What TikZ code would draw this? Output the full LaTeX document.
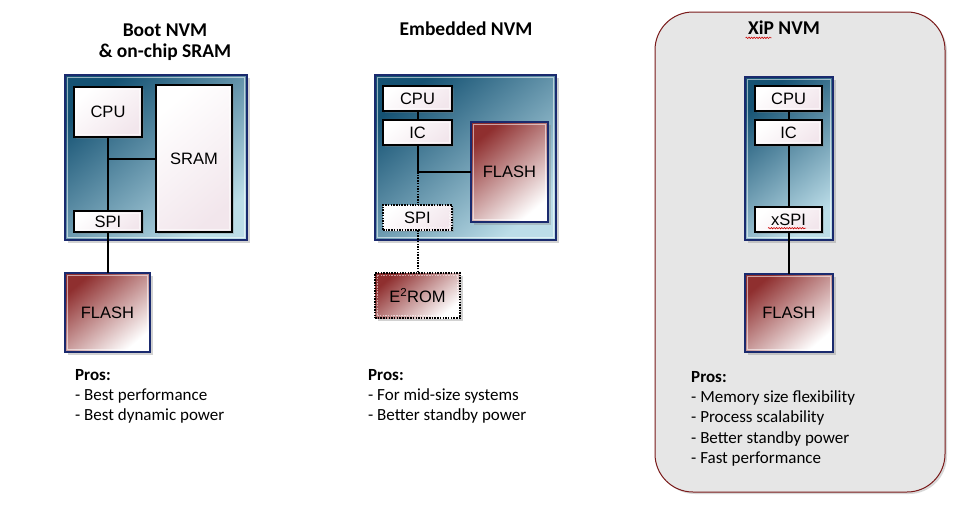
\documentclass[tikz,border=0pt]{standalone}
\usepackage{fontspec}
\setmainfont{Liberation Sans}
\newfontfamily\calfont{Carlito}
\usetikzlibrary{shadows,decorations.pathmorphing}
\definecolor{bdark}{HTML}{155273}
\definecolor{blight}{HTML}{BCDDE8}
\definecolor{navy}{HTML}{1A2A6E}
\definecolor{rdark}{HTML}{8F2F2F}
\definecolor{wpink}{HTML}{F2E6EC}
\definecolor{panelgrey}{HTML}{E6E6E6}
\definecolor{panelred}{HTML}{7A1A1A}
\tikzset{
  bevel/.style={path picture={\draw[white,opacity=0.55,line width=1.2pt]
     ([shift={(2.2pt,-2.2pt)}]path picture bounding box.north west) rectangle
     ([shift={(-2.2pt,2.2pt)}]path picture bounding box.south east);}},
  board/.style={draw=navy,line width=2pt,inner sep=0pt,outer sep=0pt,
     top color=bdark,bottom color=blight,shading angle=40,bevel,
     drop shadow={shadow xshift=2.5pt,shadow yshift=-2.5pt,opacity=0.35}},
  wbox/.style={draw=black,line width=2pt,inner sep=0pt,outer sep=0pt,
     top color=white,bottom color=wpink,shading angle=40,bevel,
     font=\fontsize{16.5}{18}\selectfont,
     drop shadow={shadow xshift=1.5pt,shadow yshift=-1.5pt,opacity=0.3}},
  fbox/.style={draw=navy,line width=2pt,inner sep=0pt,outer sep=0pt,
     top color=rdark,bottom color=white,shading angle=40,bevel,
     font=\fontsize{16.5}{18}\selectfont,
     drop shadow={shadow xshift=2.5pt,shadow yshift=-2.5pt,opacity=0.35}},
  dotbox/.style={dash pattern=on 1.5pt off 1.2pt},
  wire/.style={draw=black,line width=2pt},
  dwire/.style={draw=black,line width=2pt,dash pattern=on 1.5pt off 1.2pt},
  title/.style={font=\calfont\bfseries\fontsize{19.5}{22}\selectfont},
  pros/.style={anchor=north west,align=left,inner sep=0pt,font=\calfont\fontsize{17}{20.3}\selectfont},
  squiggle/.style={draw=red!80!black,line width=0.6pt,decorate,
     decoration={snake,amplitude=0.7pt,segment length=2.6pt}}
}
\begin{document}
\begin{tikzpicture}[x=1pt,y=-1pt]
\useasboundingbox[fill=white] (0,0) rectangle (959,507);
% panel 3 background
\draw[fill=panelgrey,draw=panelred,line width=1pt,rounded corners=38pt,
  drop shadow={shadow xshift=2pt,shadow yshift=-2pt,opacity=0.3}]
  (655,12) rectangle (945,492);

% ===== Panel 1 =====
\node[title] (t1a) at (165,30) {Boot NVM};
\node[title] (t1b) at (165,52) {\& on-chip SRAM};
\node[board,minimum width=182pt,minimum height=165pt] (b1) at (156,157.5) {};
\node[wbox,minimum width=68pt,minimum height=50pt] (cpu1) at (108,112) {CPU};
\node[wbox,minimum width=76pt,minimum height=147pt] (sram) at (194,158.5) {SRAM};
\node[wbox,minimum width=68pt,minimum height=21pt] (spi1) at (108,221.5) {SPI};
\node[fbox,minimum width=85pt,minimum height=79pt] (fl1) at (107.5,312.5) {FLASH};
\coordinate (j1) at (cpu1.south |- sram.west);
\draw[wire] (cpu1.south) -- (spi1.north);
\draw[wire] (j1) -- (sram.west);
\draw[wire] (spi1.south) -- (spi1.south |- fl1.north);
\node[pros] (p1) at (75,369) {\textbf{Pros:}\\- Best performance\\- Best dynamic power};

% ===== Panel 2 =====
\node[title] (t2) at (466,29) {Embedded NVM};
\node[board,minimum width=181pt,minimum height=165pt] (b2) at (465.5,157.5) {};
\node[wbox,minimum width=69pt,minimum height=25pt] (cpu2) at (417.5,98.5) {CPU};
\node[wbox,minimum width=69pt,minimum height=25pt] (ic2) at (417.5,132.5) {IC};
\node[fbox,minimum width=77pt,minimum height=100pt] (fl2) at (509.5,172) {FLASH};
\node[wbox,dotbox,minimum width=69pt,minimum height=25pt] (spi2) at (417.5,217.5) {SPI};
\node[fbox,draw=black,dotbox,minimum width=85pt,minimum height=45pt] (e2) at (417.5,295.5) {E\textsuperscript{2}ROM};
\coordinate (j2) at (ic2.south |- fl2.west);
\draw[wire] (cpu2.south) -- (ic2.north);
\draw[wire] (ic2.south) -- (j2) -- (fl2.west);
\draw[dwire] (j2) -- (spi2.north);
\draw[dwire] (spi2.south) -- (e2.north);
\node[pros] (p2) at (368,369) {\textbf{Pros:}\\- For mid-size systems\\- Better standby power};

% ===== Panel 3 =====
\node[title] (t3) at (784,28) {XiP NVM};
\draw[squiggle] ([shift={(1pt,-3pt)}]t3.base west) coordinate (s3a) -- ++(26pt,0pt);
\node[board,minimum width=88pt,minimum height=163pt] (b3) at (789,158.5) {};
\node[wbox,minimum width=67pt,minimum height=25pt] (cpu3) at (788.5,98.5) {CPU};
\node[wbox,minimum width=67pt,minimum height=25pt] (ic3) at (788.5,132.5) {IC};
\node[wbox,minimum width=67pt,minimum height=25pt] (xspi) at (788.5,219.5) {xSPI};
\draw[squiggle] ([shift={(0pt,-3pt)}]xspi.base west) ++(13pt,0pt) -- ++(38pt,0pt);
\node[fbox,minimum width=88pt,minimum height=78pt] (fl3) at (789,313) {FLASH};
\draw[wire] (cpu3.south) -- (ic3.north);
\draw[wire] (ic3.south) -- (xspi.north);
\draw[wire] (xspi.south) -- (xspi.south |- fl3.north);
\node[pros] (p3) at (691,371) {\textbf{Pros:}\\- Memory size flexibility\\- Process scalability\\- Better standby power\\- Fast performance};
\end{tikzpicture}
\end{document}
